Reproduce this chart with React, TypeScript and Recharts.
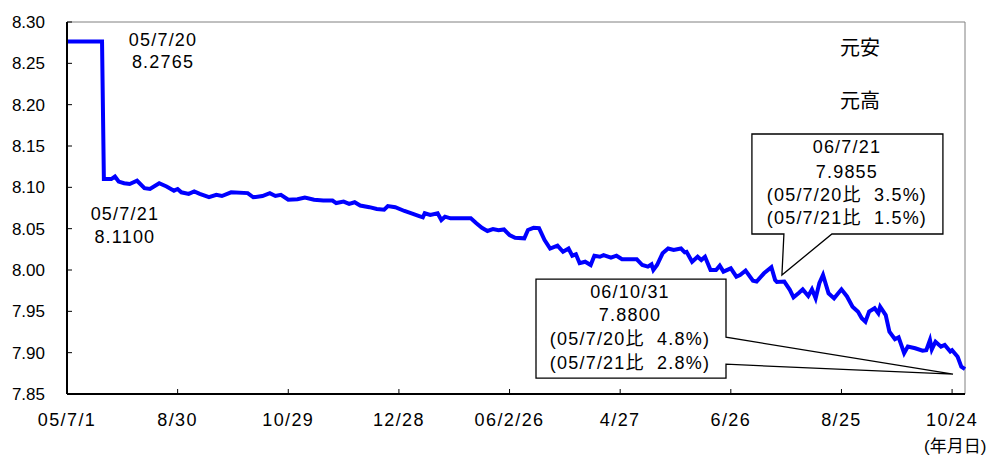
import React from "react";
import {
  LineChart,
  Line,
  XAxis,
  YAxis,
  ReferenceLine,
  ReferenceDot,
} from "recharts";

// days counted from 2005/7/1
const days = [
  0, 19, 20, 24, 26, 28, 31, 34, 38, 42, 45, 50, 54, 58, 60, 62, 66, 69, 72, 77,
  81, 84, 89, 98, 101, 106, 110, 113, 116, 120, 125, 129, 134, 139, 144, 146,
  150, 153, 156, 159, 164, 168, 172, 174, 178, 183, 188, 191, 193, 194, 197,
  201, 203, 205, 208, 219, 222, 225, 228, 231, 234, 237, 240, 243, 248, 250,
  253, 256, 259, 262, 266, 269, 272, 274, 276, 278, 281, 284, 286, 289, 291,
  295, 298, 301, 309, 312, 315, 317, 318, 320, 323, 326, 329, 333, 335, 336,
  339, 342, 344, 346, 349, 352, 354, 356, 360, 363, 365, 368, 372, 374, 378,
  382, 384, 385, 389, 392, 394, 397, 399, 402, 404, 406, 408, 410, 413, 416,
  420, 423, 426, 429, 431, 433, 435, 438, 440, 441, 444, 446, 449, 451, 454,
  456, 460, 464, 466, 468, 469, 471, 474, 476, 479, 480, 483, 485, 487,
];

// yuan per dollar
const rates = [
  8.2765, 8.2765, 8.11, 8.11, 8.113, 8.107, 8.105, 8.104, 8.108, 8.099, 8.098,
  8.105, 8.101, 8.096, 8.098, 8.094, 8.092, 8.095, 8.092, 8.088, 8.091, 8.0895,
  8.094, 8.093, 8.088, 8.0895, 8.093, 8.0895, 8.091, 8.085, 8.0855, 8.0876,
  8.085, 8.084, 8.084, 8.081, 8.0827, 8.08, 8.082, 8.078, 8.076, 8.0738, 8.073,
  8.0774, 8.076, 8.0714, 8.0677, 8.0653, 8.0637, 8.0686, 8.0665, 8.0686,
  8.0605, 8.0645, 8.0625, 8.0625, 8.0565, 8.051, 8.0472, 8.0496, 8.048, 8.049,
  8.0423, 8.039, 8.0383, 8.0484, 8.051, 8.0505, 8.0363, 8.026, 8.0294, 8.022,
  8.026, 8.0173, 8.019, 8.0082, 8.01, 8.006, 8.0173, 8.016, 8.018, 8.015,
  8.0173, 8.013, 8.013, 8.006, 8.004, 8.0069, 8.0, 8.006, 8.0202, 8.026,
  8.0242, 8.026, 8.0214, 8.022, 8.01, 8.016, 8.012, 8.016, 8.0, 8.0, 8.0052,
  7.998, 8.002, 7.992, 7.994, 7.9992, 7.987, 7.986, 7.996, 8.0033, 7.988,
  7.9855, 7.986, 7.976, 7.967, 7.9725, 7.9766, 7.9686, 7.9766, 7.9657, 7.984,
  7.994, 7.9718, 7.9657, 7.9766, 7.968, 7.9556, 7.9496, 7.9416, 7.9375,
  7.9496, 7.9537, 7.9476, 7.9556, 7.9455, 7.9254, 7.9162, 7.9186, 7.8993,
  7.9073, 7.9053, 7.9024, 7.903, 7.9153, 7.904, 7.9133, 7.9073, 7.9093, 7.9013,
  7.903, 7.895, 7.883, 7.88,
];

const tickDays = [0, 60, 120, 180, 240, 300, 360, 420, 480];
const tickLabels = ["05/7/1", "8/30", "10/29", "12/28", "06/2/26", "4/27", "6/26", "8/25", "10/24"];
const yTicks = [7.85, 7.9, 7.95, 8.0, 8.05, 8.1, 8.15, 8.2, 8.25, 8.3];

const box1Lines = ["06/7/21", "7.9855", "(05/7/20比  3.5%)", "(05/7/21比  1.5%)"];
const box2Lines = ["06/10/31", "7.8800", "(05/7/20比  4.8%)", "(05/7/21比  2.8%)"];

const data = days.map((d, i) => ({ day: d, rate: rates[i] }));

const FONT = "'Liberation Sans', 'Noto Sans CJK JP', sans-serif";
const txt = { fontSize: 18, letterSpacing: 1.2, fill: "#000", whiteSpace: "pre" } as React.CSSProperties;

const Lines = ({ x, ys, lines }: { x: number; ys: number[]; lines: string[] }) => (
  <g>
    {lines.map((s, i) => (
      <text key={i} x={x} y={ys[i]} textAnchor="middle" dominantBaseline="central" style={txt}>
        {s}
      </text>
    ))}
  </g>
);

const peakLabel = (p: any) => (
  <Lines x={p.cx + 61} ys={[p.cy - 1, p.cy + 21]} lines={["05/7/20", "8.2765"]} />
);

const dropLabel = (p: any) => (
  <Lines x={p.cx + 21} ys={[p.cy + 35, p.cy + 58]} lines={["05/7/21", "8.1100"]} />
);

const callout1 = (p: any) => {
  const { cx, cy } = p;
  const pts = [
    [cx - 25, cy - 148],
    [cx + 166, cy - 148],
    [cx + 166, cy - 48],
    [cx + 55, cy - 48],
    [cx + 5, cy - 7],
    [cx + 7, cy - 48],
    [cx - 25, cy - 48],
  ]
    .map((q) => q.join(","))
    .join(" ");
  return (
    <g>
      <polygon points={pts} fill="#fff" stroke="#000" strokeWidth={1.3} />
      <Lines x={cx + 70} ys={[cy - 135, cy - 110, cy - 87, cy - 64]} lines={box1Lines} />
    </g>
  );
};

const callout2 = (p: any) => {
  const { cx, cy } = p;
  const pts = [
    [cx - 429, cy - 90],
    [cx - 239, cy - 90],
    [cx - 239, cy - 32],
    [cx - 12, cy + 5],
    [cx - 239, cy - 5],
    [cx - 239, cy + 9],
    [cx - 429, cy + 9],
  ]
    .map((q) => q.join(","))
    .join(" ");
  return (
    <g>
      <polygon points={pts} fill="#fff" stroke="#000" strokeWidth={1.3} />
      <Lines x={cx - 335} ys={[cy - 77, cy - 54, cy - 30, cy - 6]} lines={box2Lines} />
    </g>
  );
};

export default function App() {
  return (
    <div style={{ position: "absolute", left: 0, top: 0, width: 1003, height: 458, fontFamily: FONT }}>
      <LineChart
        width={1003}
        height={458}
        data={data}
        margin={{ top: 22, right: 38, left: 0, bottom: 0 }}
      >
        <ReferenceLine y={8.3} stroke="#808080" strokeWidth={1} />
        <ReferenceLine x={487} stroke="#808080" strokeWidth={1} />
        <XAxis
          dataKey="day"
          type="number"
          domain={[0, 487]}
          ticks={tickDays}
          tickFormatter={(v: number) => tickLabels[tickDays.indexOf(v)]}
          interval={0}
          height={64}
          tickSize={-5}
          tickMargin={24}
          axisLine={{ stroke: "#000", strokeWidth: 2 }}
          tickLine={{ stroke: "#000" }}
          tick={{ fill: "#000", fontSize: 18, letterSpacing: 1.4 }}
        />
        <YAxis
          type="number"
          domain={[7.85, 8.3]}
          ticks={yTicks}
          tickFormatter={(v: number) => v.toFixed(2)}
          interval={0}
          width={67}
          tickSize={-5}
          tickMargin={27}
          axisLine={{ stroke: "#000", strokeWidth: 2 }}
          tickLine={{ stroke: "#000" }}
          tick={{ fill: "#000", fontSize: 17 }}
        />
        <Line
          type="linear"
          dataKey="rate"
          stroke="#0000ff"
          strokeWidth={4}
          dot={false}
          activeDot={false}
          isAnimationActive={false}
        />
        <ReferenceDot x={19} y={8.2765} ifOverflow="visible" shape={peakLabel} />
        <ReferenceDot x={20} y={8.11} ifOverflow="visible" shape={dropLabel} />
        <ReferenceDot x={385} y={7.9855} ifOverflow="visible" shape={callout1} />
        <ReferenceDot x={487} y={7.88} ifOverflow="visible" shape={callout2} />
      </LineChart>
      <div style={{ position: "absolute", left: 840, top: 35, fontSize: 20, lineHeight: "26px" }}>元安</div>
      <div style={{ position: "absolute", left: 840, top: 88, fontSize: 20, lineHeight: "26px" }}>元高</div>
      <div style={{ position: "absolute", left: 924, top: 436, fontSize: 17, lineHeight: "22px" }}>(年月日)</div>
    </div>
  );
}
